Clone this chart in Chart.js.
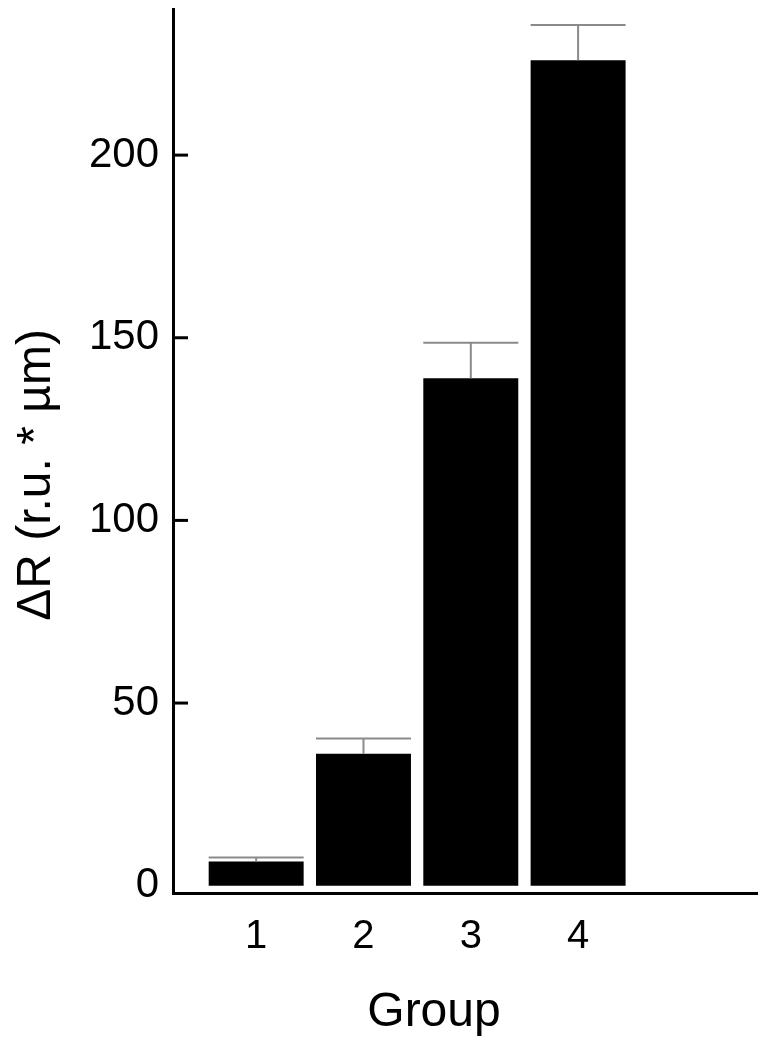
<!DOCTYPE html>
<html>
<head>
<meta charset="utf-8">
<script src="https://cdn.jsdelivr.net/npm/chart.js@4.4.0/dist/chart.umd.min.js"></script>
<style>
  html, body { margin: 0; background: #fff; }
  #wrap { width: 766px; height: 1050px; }
</style>
</head>
<body>
<div id="wrap"><canvas id="myChart" width="766" height="1050"></canvas></div>
<script>
// data
const groups = ['1', '2', '3', '4'];
const positions = [1, 2, 3, 4];
const meanValues = [6.6, 36.1, 138.9, 226.0];
const errorValues = [1.1, 4.2, 9.7, 9.6];
const yTicks = [0, 50, 100, 150, 200];

Chart.defaults.font.family = '"Liberation Sans", Arial, sans-serif';
Chart.defaults.color = '#000';

// upper error bars, cap as wide as the bar
const errorBars = {
  id: 'errorBars',
  afterDatasetsDraw(chart) {
    const ctx = chart.ctx;
    const y = chart.scales.y;
    const meta = chart.getDatasetMeta(0);
    ctx.save();
    ctx.strokeStyle = '#8a8a8a';
    ctx.lineWidth = 2;
    meta.data.forEach((bar, i) => {
      const top = y.getPixelForValue(meanValues[i] + errorValues[i]);
      const half = bar.width / 2;
      ctx.beginPath();
      ctx.moveTo(bar.x, bar.y);
      ctx.lineTo(bar.x, top);
      ctx.moveTo(bar.x - half, top);
      ctx.lineTo(bar.x + half, top);
      ctx.stroke();
    });
    ctx.restore();
  }
};

// inner tick marks + axis titles
const axisExtras = {
  id: 'axisExtras',
  afterDraw(chart) {
    const ctx = chart.ctx;
    const area = chart.chartArea;
    const y = chart.scales.y;
    ctx.save();
    ctx.strokeStyle = '#000';
    ctx.lineWidth = 3;
    yTicks.forEach(v => {
      if (v <= 0) return;
      const py = y.getPixelForValue(v);
      ctx.beginPath();
      ctx.moveTo(area.left, py);
      ctx.lineTo(area.left + 15, py);
      ctx.stroke();
    });

    ctx.fillStyle = '#000';
    ctx.font = '48px "Liberation Sans", Arial, sans-serif';
    ctx.textAlign = 'center';
    ctx.textBaseline = 'alphabetic';
    ctx.fillText('Group', area.left + 261, 1026);

    ctx.translate(50, 475);
    ctx.rotate(-Math.PI / 2);
    ctx.fillText('ΔR (r.u. * µm)', 0, 0);
    ctx.restore();
  }
};

const ctx = document.getElementById('myChart');
new Chart(ctx, {
  type: 'bar',
  data: {
    datasets: [{
      data: positions.map((p, i) => ({ x: p, y: meanValues[i] })),
      backgroundColor: '#000',
      borderWidth: 0,
      barPercentage: 1,
      categoryPercentage: 0.885
    }]
  },
  options: {
    responsive: false,
    animation: false,
    layout: { padding: { top: 9, right: 9, left: 0, bottom: 0 } },
    plugins: {
      legend: { display: false },
      tooltip: { enabled: false }
    },
    scales: {
      x: {
        type: 'linear',
        min: 0.225,
        max: 5.667,
        offset: false,
        grid: { display: false, drawTicks: false },
        border: { display: true, color: '#000', width: 3 },
        afterBuildTicks: s => { s.ticks = positions.map(v => ({ value: v })); },
        afterFit: s => { s.height = 157; s.paddingLeft = 0; s.paddingRight = 0; },
        ticks: {
          callback: v => groups[positions.indexOf(v)],
          font: { size: 40 },
          color: '#000',
          padding: 20,
          maxRotation: 0,
          autoSkip: false
        }
      },
      y: {
        min: -2,
        max: 240,
        grid: { display: false, drawTicks: false },
        border: { display: true, color: '#000', width: 3 },
        afterBuildTicks: s => { s.ticks = yTicks.map(v => ({ value: v })); },
        afterFit: s => { s.width = 173; s.paddingTop = 0; s.paddingBottom = 0; },
        ticks: {
          font: { size: 42 },
          color: '#000',
          padding: 14
        }
      }
    }
  },
  plugins: [errorBars, axisExtras]
});
</script>
</body>
</html>
